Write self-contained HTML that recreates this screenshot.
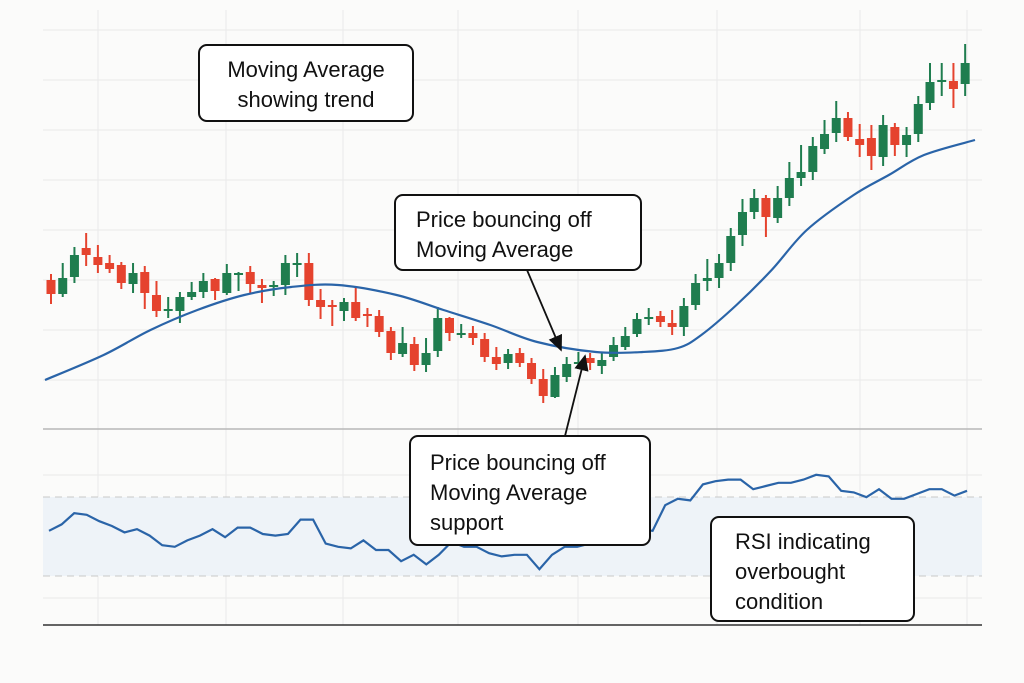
<!DOCTYPE html>
<html><head><meta charset="utf-8"><style>
body{margin:0;background:#fbfbfa;}
svg{display:block;font-family:"Liberation Sans",sans-serif;}
</style></head><body>
<svg id="chart" width="1024" height="683" viewBox="0 0 1024 683">
<rect width="1024" height="683" fill="#fbfbfa"/>
<g id="grid"></g>
<rect x="43" y="497" width="939" height="79" fill="#eef3f8"/>
<line x1="43" y1="497" x2="982" y2="497" stroke="#c8c8c8" stroke-dasharray="7,5"/>
<line x1="43" y1="576" x2="982" y2="576" stroke="#c8c8c8" stroke-dasharray="7,5"/>
<line x1="43" y1="429" x2="982" y2="429" stroke="#b8b8b8" stroke-width="1.5"/>
<line x1="43" y1="625" x2="982" y2="625" stroke="#333" stroke-width="1.5"/>
<g id="candles"></g>
<path id="ma" fill="none" stroke="#2a64a8" stroke-width="2.2"/>
<path id="rsi" fill="none" stroke="#2a64a8" stroke-width="2.2"/>
<defs><marker id="ah" markerWidth="10" markerHeight="10" refX="8" refY="5" orient="auto"><path d="M0,1 L9,5 L0,9 z" fill="#111"/></marker></defs>
<line x1="527" y1="270" x2="561" y2="350" stroke="#111" stroke-width="1.8" marker-end="url(#ah)"/>
<line x1="565" y1="436" x2="585" y2="356" stroke="#111" stroke-width="1.8" marker-end="url(#ah)"/>
<g>
<rect x="199" y="45" width="214" height="76" rx="8" fill="#fff" stroke="#111" stroke-width="2"/>
<text x="306" y="77" text-anchor="middle" font-size="22" fill="#111">Moving Average</text>
<text x="306" y="107" text-anchor="middle" font-size="22" fill="#111">showing trend</text>
</g>
<g>
<rect x="395" y="195" width="246" height="75" rx="8" fill="#fff" stroke="#111" stroke-width="2"/>
<text x="416" y="227" font-size="22" fill="#111">Price bouncing off</text>
<text x="416" y="257" font-size="22" fill="#111">Moving Average</text>
</g>
<g>
<rect x="410" y="436" width="240" height="109" rx="8" fill="#fff" stroke="#111" stroke-width="2"/>
<text x="430" y="470" font-size="22" fill="#111">Price bouncing off</text>
<text x="430" y="500" font-size="22" fill="#111">Moving Average</text>
<text x="430" y="530" font-size="22" fill="#111">support</text>
</g>
<g>
<rect x="711" y="517" width="203" height="104" rx="8" fill="#fff" stroke="#111" stroke-width="2"/>
<text x="735" y="549" font-size="22" fill="#111">RSI indicating</text>
<text x="735" y="579" font-size="22" fill="#111">overbought</text>
<text x="735" y="609" font-size="22" fill="#111">condition</text>
</g>
</svg>
<script>
// Candle data (price units)
const opens=[170,156,173,202,193,187,185,166,178,155,139,139,153,158,171,157,176,178,165,163,165,186,187,150,145,139,148,136,134,119,96,106,85,99,132,116,117,111,93,87,97,87,71,53,73,86,92,84,93,103,116,132,134,127,123,145,169,172,187,215,238,252,232,252,272,278,301,317,332,311,312,293,323,305,316,347,368,369,366];
const closes=[156,172,195,195,185,181,167,177,157,139,141,153,158,169,159,177,177,166,162,165,187,187,150,143,143,148,132,134,118,97,107,85,97,132,117,117,112,93,86,96,87,71,54,75,86,88,87,90,105,114,131,133,128,123,144,167,172,187,214,238,252,233,252,272,278,304,316,332,313,305,294,325,305,315,346,368,370,361,387];
const highs=[176,187,203,217,205,195,188,187,184,169,153,158,168,177,172,186,178,184,171,169,195,197,197,161,150,152,164,142,140,123,123,113,112,143,133,126,124,117,103,101,102,92,81,83,93,98,97,97,113,123,137,142,139,140,152,176,191,196,222,251,261,255,264,288,305,313,330,349,338,326,325,335,327,323,354,387,387,387,406];
const lows=[146,153,167,184,177,177,161,157,141,133,132,127,150,152,150,155,159,157,147,154,155,173,144,131,124,129,129,123,113,90,93,79,78,93,109,112,105,88,80,81,83,66,47,52,68,82,80,76,89,100,113,125,123,115,114,140,159,162,179,204,231,213,227,244,264,270,296,308,309,293,280,284,294,293,308,340,354,342,354];
// Moving average samples (price units) at candle indices
const maIdx=[0,5,9,13,17,21,25,30,34,38,42,47,51,54,56,59,62,65,69,72,75,78];
const maVals=[70,95,120,140,155,163,165,155,140,125,108,98,98,102,115,145,180,220,255,275,295,310];
// RSI values (0-100 scale)
const rsiVals=[62,66,73,72,68,65,61,63,59,53,52,56,59,63,58,64,64,60,59,60,69,69,54,52,51,56,50,50,43,47,41,47,55,52,52,48,46,47,47,38,47,52,52,54,59,63,63,63,62,78,82,81,91,93,94,94,88,90,92,92,94,97,96,87,86,83,88,82,82,85,88,88,84,87];

const X0=51,DX=11.72;
const xs=i=>X0+i*DX;
const py=p=>450-p;
const ry=v=>630-v*1.6;
const NS="http://www.w3.org/2000/svg";

const grid=document.getElementById('grid');
[30,80,130,180,230,280,330,380,475,533,598].forEach(y=>{
  const l=document.createElementNS(NS,'line');
  
  
  l.setAttribute('x1',43);l.setAttribute('x2',982);l.setAttribute('y1',y);l.setAttribute('y2',y);
  l.setAttribute('stroke','#ececec');l.setAttribute('stroke-width','1.2');grid.appendChild(l);
});
[98,226,343,458,578,717,860,967].forEach(x=>{
  const l=document.createElementNS(NS,'line');
  
  
  l.setAttribute('x1',x);l.setAttribute('x2',x);l.setAttribute('y1',10);l.setAttribute('y2',625);
  l.setAttribute('stroke','#ececec');l.setAttribute('stroke-width','1.2');grid.appendChild(l);
});

const cg=document.getElementById('candles');
for(let i=0;i<opens.length;i++){
  const up=closes[i]>=opens[i];const col=up?'#1f7d4f':'#e5432e';
  const g=document.createElementNS(NS,'g');
  
  
  const w=document.createElementNS(NS,'line');
  w.setAttribute('x1',xs(i));w.setAttribute('x2',xs(i));
  w.setAttribute('y1',py(highs[i]));w.setAttribute('y2',py(lows[i]));
  w.setAttribute('stroke',col);w.setAttribute('stroke-width','2');g.appendChild(w);
  const r=document.createElementNS(NS,'rect');
  const top=py(Math.max(opens[i],closes[i]));const h=Math.max(2,Math.abs(opens[i]-closes[i]));
  r.setAttribute('x',xs(i)-4.5);r.setAttribute('y',top);r.setAttribute('width',9);r.setAttribute('height',h);
  r.setAttribute('fill',col);g.appendChild(r);
  cg.appendChild(g);
}
function smooth(pts){let d='M'+pts[0][0]+','+pts[0][1];
  for(let i=0;i<pts.length-1;i++){const p0=pts[i-1]||pts[i],p1=pts[i],p2=pts[i+1],p3=pts[i+2]||p2;
    d+=' C'+(p1[0]+(p2[0]-p0[0])/6)+','+(p1[1]+(p2[1]-p0[1])/6)+' '+(p2[0]-(p3[0]-p1[0])/6)+','+(p2[1]-(p3[1]-p1[1])/6)+' '+p2[0]+','+p2[1];}
  return d;}
const maPts=maIdx.map((k,j)=>[xs(k)-6,py(maVals[j])]);
maPts[0][0]=45;maPts[maPts.length-1][0]=975;
document.getElementById('ma').setAttribute('d',smooth(maPts));
const rdx=(967-49)/(rsiVals.length-1);
document.getElementById('rsi').setAttribute('d',rsiVals.map((v,i)=>(i?'L':'M')+(49+i*rdx).toFixed(1)+','+ry(v).toFixed(1)).join(' '));
</script>
</body></html>
